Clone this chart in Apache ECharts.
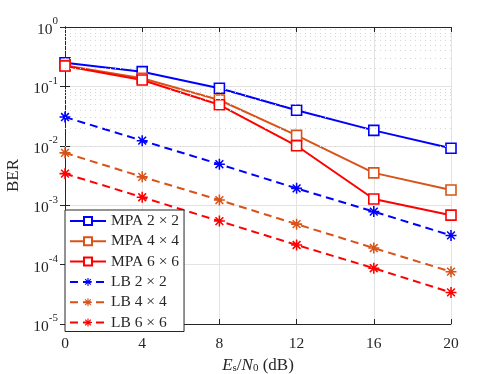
<!DOCTYPE html>
<html>
<head>
<meta charset="utf-8">
<script src="https://cdn.jsdelivr.net/npm/echarts@6/dist/echarts.min.js"></script>
<style>
  html, body { margin: 0; padding: 0; background: #fff; }
  #main { width: 498px; height: 374px; }
</style>
</head>
<body>
<div id="main"></div>
<script>
// Es/N0 in dB
const snr = [0, 4, 8, 12, 16, 20];
const mpa2 = [0.25, 0.177, 0.093, 0.0396, 0.0182, 0.0091];
const mpa4 = [0.224, 0.137, 0.059, 0.015, 0.0035, 0.0018];
const mpa6 = [0.22, 0.128, 0.049, 0.0100, 0.00127, 0.00068];
const lb2 = [0.0305, 0.0122, 0.0049, 0.00192, 0.00078, 0.00031];
const lb4 = [0.0076, 0.0030, 0.00122, 0.00048, 0.00019, 0.000076];
const lb6 = [0.0034, 0.00136, 0.00054, 0.000214, 0.000087, 0.000034];
const names = ['MPA 2 × 2', 'MPA 4 × 4', 'MPA 6 × 6', 'LB 2 × 2', 'LB 4 × 4', 'LB 6 × 6'];

const BLUE = '#0000ff', ORANGE = '#d95319', RED = '#ff0000';
const FONT = 'Liberation Serif';
const AX = '#262626';

// asterisk marker (plus + x)
const star = 'path://M-10,-1.4L10,-1.4L10,1.4L-10,1.4Z' +
  'M-1.4,-10L1.4,-10L1.4,10L-1.4,10Z' +
  'M-6.08,-8.06L8.06,6.08L6.08,8.06L-8.06,-6.08Z' +
  'M-8.06,6.08L6.08,-8.06L8.06,-6.08L-6.08,8.06Z';

// minor grid values on the log axis
const minorVals = [];
for (let e = -5; e < 0; e++) {
  for (let k = 2; k <= 9; k++) minorVals.push(k * Math.pow(10, e));
}

function pairs(ys) {
  return snr.map((x, i) => [x, ys[i]]);
}

function mpaSeries(name, color, ys) {
  return {
    name: name, type: 'line', data: pairs(ys), z: 3,
    symbol: 'rect', symbolSize: 10,
    itemStyle: { color: '#fff', borderColor: color, borderWidth: 1.6 },
    lineStyle: { color: color, width: 2 },
    color: color
  };
}
function lbSeries(name, color, ys) {
  return {
    name: name, type: 'line', data: pairs(ys), z: 3,
    symbol: star, symbolSize: 11,
    itemStyle: { color: color },
    lineStyle: { color: color, width: 2, type: [8, 5] },
    color: color
  };
}

const chart = echarts.init(document.getElementById('main'));
chart.setOption({
  animation: false,
  grid: { left: 65, right: 47, top: 27, bottom: 50, show: false, outerBoundsMode: 'none' },
  legend: {
    data: names,
    orient: 'vertical',
    left: 65, top: 210,
    padding: [3, 5, 1, 4],
    itemWidth: 36, itemHeight: 10, itemGap: 4.3,
    backgroundColor: '#fff',
    borderColor: AX, borderWidth: 1, borderRadius: 0,
    textStyle: { fontFamily: FONT, fontSize: 15.5, color: AX, lineHeight: 14 }
  },
  xAxis: [{
    type: 'value', min: 0, max: 20, interval: 4,
    name: '{i|E}{sub|s}{n|/}{i|N}{sub|0}{n| (dB)}',
    nameLocation: 'middle', nameGap: 21,
    nameTextStyle: {
      rich: {
        i: { fontFamily: FONT, fontSize: 17, fontStyle: 'italic', color: AX, lineHeight: 20, verticalAlign: 'bottom' },
        n: { fontFamily: FONT, fontSize: 17, color: AX, lineHeight: 20, verticalAlign: 'bottom' },
        sub: { fontFamily: FONT, fontSize: 11, color: AX, lineHeight: 11, verticalAlign: 'bottom' }
      }
    },
    axisLine: { lineStyle: { color: AX, width: 1 } },
    axisTick: { inside: true, length: 5, lineStyle: { color: AX } },
    axisLabel: { fontFamily: FONT, fontSize: 15.5, color: AX, margin: 12 },
    splitLine: { show: true, lineStyle: { color: '#e3e3e3', width: 1 } }
  }, {
    type: 'value', min: 0, max: 20, interval: 4, position: 'top',
    axisLine: { lineStyle: { color: AX, width: 1 } },
    axisTick: { inside: true, length: 5, lineStyle: { color: AX } },
    axisLabel: { show: false },
    splitLine: { show: false }
  }],
  yAxis: [{
    type: 'log', logBase: 10, min: 1e-5, max: 1, splitNumber: 5,
    name: 'BER', nameLocation: 'middle', nameGap: 41,
    nameTextStyle: { fontFamily: FONT, fontSize: 17, color: AX },
    axisLine: { show: true, lineStyle: { color: AX, width: 1 } },
    axisTick: { show: true, inside: true, length: 5, lineStyle: { color: AX } },
    axisLabel: {
      margin: 7,
      formatter: function (v) {
        const e = Math.round(Math.log10(v));
        return '{b|10}{s|' + e + '}';
      },
      rich: {
        b: { fontFamily: FONT, fontSize: 15.5, color: AX, lineHeight: 22, verticalAlign: 'bottom' },
        s: { fontFamily: FONT, fontSize: 11, color: AX, lineHeight: 11, verticalAlign: 'top' }
      }
    },
    splitLine: { show: true, lineStyle: { color: '#e3e3e3', width: 1 } }
  }, {
    type: 'log', logBase: 10, min: 1e-5, max: 1, splitNumber: 5, position: 'right',
    axisLine: { show: true, lineStyle: { color: AX, width: 1 } },
    axisTick: { show: true, inside: true, length: 5, lineStyle: { color: AX } },
    axisLabel: { show: false },
    splitLine: { show: false }
  }],
  series: [
    {
      name: 'minor', type: 'line', data: [], z: 1, silent: true,
      markLine: {
        silent: true, symbol: ['none', 'none'], animation: false,
        label: { show: false },
        lineStyle: { color: '#d6d6d6', type: [1, 4], width: 1 },
        data: minorVals.map(v => ({ yAxis: v }))
      }
    },
    mpaSeries(names[0], BLUE, mpa2),
    mpaSeries(names[1], ORANGE, mpa4),
    mpaSeries(names[2], RED, mpa6),
    lbSeries(names[3], BLUE, lb2),
    lbSeries(names[4], ORANGE, lb4),
    lbSeries(names[5], RED, lb6)
  ]
});
</script>
</body>
</html>
